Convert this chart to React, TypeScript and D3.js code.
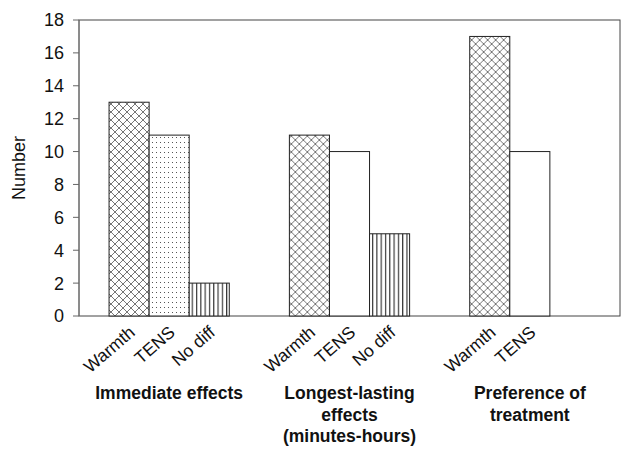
import * as d3 from "d3";

const groups = ["Immediate effects", "Longest-lasting effects (minutes-hours)", "Preference of treatment"];
const groupLines = [["Immediate effects"], ["Longest-lasting", "effects", "(minutes-hours)"], ["Preference of", "treatment"]];
const slots = ["Warmth", "TENS", "No diff"];
// value per group/slot; null = no bar
const values: (number | null)[][] = [
  [13, 11, 2],
  [11, 10, 5],
  [17, 10, null],
];
const fills = [
  ["url(#cross)", "url(#dots)", "url(#vlines)"],
  ["url(#cross)", "#fff", "url(#vlines)"],
  ["url(#cross)", "#fff", "none"],
];
const yTicks = [0, 2, 4, 6, 8, 10, 12, 14, 16, 18];

const W = 634, H = 455;
const m = { left: 79, right: 14, top: 20, bottom: 139 };

export default function App() {
  const x0 = d3.scaleBand().domain(groups).range([m.left, W - m.right]);
  const x1 = d3.scaleBand().domain(slots).range([0, x0.bandwidth()]).paddingOuter(0.75).paddingInner(0);
  const y = d3.scaleLinear().domain([0, 18]).range([H - m.bottom, m.top]);
  const font = "Arial, 'Liberation Sans', sans-serif";

  return (
    <svg width={W} height={H} style={{ position: "absolute", left: 0, top: 0 }} fontFamily={font}>
      <defs>
        <pattern id="cross" width={8} height={8} patternUnits="userSpaceOnUse">
          <rect width={8} height={8} fill="#fff" />
          <path d="M0,0 L8,8 M8,0 L0,8" stroke="#666" strokeWidth={0.9} />
        </pattern>
        <pattern id="dots" width={4} height={5} patternUnits="userSpaceOnUse">
          <rect width={4} height={5} fill="#fff" />
          <rect x={1} y={2} width={1} height={1} fill="#555" />
        </pattern>
        <pattern id="vlines" width={4.3} height={4} patternUnits="userSpaceOnUse">
          <rect width={4.3} height={4} fill="#fff" />
          <rect x={1} y={0} width={1} height={4} fill="#111" />
        </pattern>
      </defs>

      {/* frame */}
      <rect x={m.left} y={m.top} width={W - m.right - m.left} height={y(0) - m.top} fill="none" stroke="#444" strokeWidth={1} />
      <line x1={m.left} x2={m.left} y1={m.top} y2={y(0)} stroke="#777" />

      {yTicks.map((t) => (
        <g key={t}>
          <line x1={m.left - 6} x2={m.left} y1={y(t)} y2={y(t)} stroke="#666" />
          <text x={m.left - 15} y={y(t)} dy="0.36em" textAnchor="end" fontSize={18} fill="#111">{t}</text>
        </g>
      ))}
      <text transform={`translate(25,${(m.top + y(0)) / 2}) rotate(-90)`} textAnchor="middle" fontSize={18} fill="#111">Number</text>

      {groups.map((g, gi) => (
        <g key={g} transform={`translate(${x0(g)},0)`}>
          {slots.map((s, si) => {
            const v = values[gi][si];
            if (v == null) return null;
            const bx = x1(s)!;
            return (
              <g key={s}>
                <rect x={bx} y={y(v)} width={x1.bandwidth()} height={y(0) - y(v)} fill={fills[gi][si]} stroke="#222" strokeWidth={1} />
                <text transform={`translate(${bx + x1.bandwidth() / 2 + 7},${y(0) + 18}) rotate(-41)`} textAnchor="end" fontSize={17.5} fill="#111">{s}</text>
              </g>
            );
          })}
          {groupLines[gi].map((ln, li) => (
            <text key={li} x={x0.bandwidth() / 2} y={399 + li * 21.5} textAnchor="middle" fontSize={17.5} fontWeight="bold" fill="#111">{ln}</text>
          ))}
        </g>
      ))}
    </svg>
  );
}
